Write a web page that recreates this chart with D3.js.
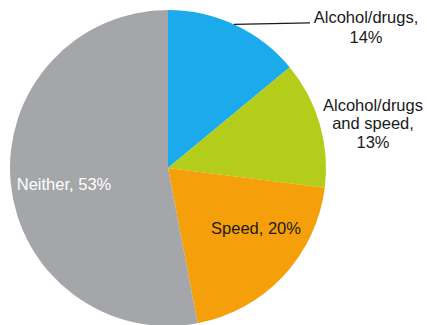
<!DOCTYPE html>
<html><head><meta charset="utf-8">
<script src="https://cdn.jsdelivr.net/npm/d3@7"></script>
<style>body{margin:0;background:#fff}svg{display:block}</style>
</head><body>
<script>
const categories = ["Alcohol/drugs", "Alcohol/drugs and speed", "Speed", "Neither"];
const values = [14, 13, 20, 53];
const colors = ["#1babec", "#b4cc1a", "#f5a00b", "#a5a6a9"];
const labelLines = [["Alcohol/drugs,", "14%"], ["Alcohol/drugs", "and speed,", "13%"], ["Speed, 20%"], ["Neither, 53%"]];

const W = 427, H = 325, cx = 168, cy = 168, R = 158;
const svg = d3.select("body").append("svg").attr("width", W).attr("height", H);
const g = svg.append("g").attr("transform", `translate(${cx},${cy})`);
const pie = d3.pie().sort(null).value(d => d)(values);
const arc = d3.arc().innerRadius(0).outerRadius(R);
g.selectAll("path").data(pie).enter().append("path")
  .attr("d", arc).attr("fill", (d, i) => colors[i]);

// label positions (relative to chart center): x center, first baseline, line height
const labelPos = [
  {x: 198, y: -145, lh: 20, fill: "#1a1a1a"},
  {x: 205, y: -57.5, lh: 18.5, fill: "#1a1a1a"},
  {x: 88, y: 66, lh: 18, fill: "#1a1a1a"},
  {x: -104, y: 22, lh: 18, fill: "#ffffff"}
];
const fontFamily = "'Liberation Sans', Arial, sans-serif";
labelLines.forEach((lines, i) => {
  const p = labelPos[i];
  const t = g.append("text").attr("text-anchor", "middle")
    .attr("font-family", fontFamily).attr("font-size", 16.5).attr("fill", p.fill);
  lines.forEach((ln, k) => {
    t.append("tspan").attr("x", p.x).attr("y", p.y + k * p.lh).text(ln);
  });
});
// leader line for first slice
const ang = 0.431;
const ex = R * Math.sin(ang), ey = -R * Math.cos(ang);
g.append("line").attr("x1", ex).attr("y1", ey).attr("x2", 142).attr("y2", ey - 1.5)
  .attr("stroke", "#1a1a1a").attr("stroke-width", 1.2);
</script>
</body></html>
